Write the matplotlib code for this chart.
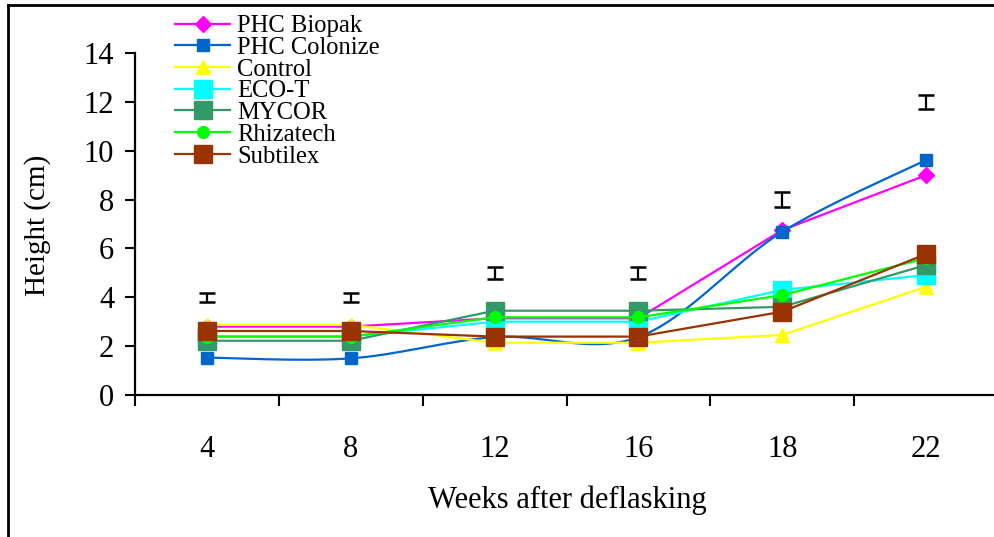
import numpy as np
import matplotlib
matplotlib.use("Agg")
import matplotlib.pyplot as plt
from matplotlib.lines import Line2D

plt.rcParams['font.family'] = ['Liberation Serif', 'DejaVu Serif']

weeks = ["4", "8", "12", "16", "18", "22"]
phc_biopak = [2.80, 2.80, 3.14, 3.14, 6.75, 9.00]
phc_colonize = [1.53, 1.50, 2.37, 2.37, 6.68, 9.62]
control = [2.87, 2.87, 2.14, 2.14, 2.46, 4.43]
eco_t = [2.40, 2.40, 3.00, 3.00, 4.30, 4.91]
mycor = [2.22, 2.22, 3.45, 3.45, 3.61, 5.32]
rhizatech = [2.39, 2.39, 3.18, 3.18, 4.09, 5.60]
subtilex = [2.62, 2.62, 2.39, 2.39, 3.41, 5.77]
lsd_center = [4.0, 4.0, 5.0, 5.0, 8.0, 12.0]
lsd_half = [0.18, 0.18, 0.25, 0.25, 0.30, 0.30]

# name, values, colour, marker, marker size, smoothed line
series = [
    ("PHC Biopak", phc_biopak, "#FF00FF", "D", 8, False),
    ("PHC Colonize", phc_colonize, "#0066CC", "s", 8, True),
    ("Control", control, "#FFFF00", "^", 10, False),
    ("ECO-T", eco_t, "#00FFFF", "s", 13, False),
    ("MYCOR", mycor, "#339966", "s", 13, False),
    ("Rhizatech", rhizatech, "#00FF00", "o", 8.5, False),
    ("Subtilex", subtilex, "#993300", "s", 13, False),
]


def smooth(xv, yv, n=30):
    pts = np.column_stack([xv, yv]).astype(float)
    m = len(pts)
    out = []
    for i in range(m - 1):
        p0 = pts[max(i - 1, 0)]
        p1 = pts[i]
        p2 = pts[i + 1]
        p3 = pts[min(i + 2, m - 1)]
        c1 = p1 + (p2 - p0) / 6.0
        c2 = p2 - (p3 - p1) / 6.0
        t = np.linspace(0, 1, n)[:, None]
        seg = ((1 - t) ** 3) * p1 + 3 * ((1 - t) ** 2) * t * c1 + 3 * (1 - t) * t ** 2 * c2 + t ** 3 * p2
        if i > 0:
            seg = seg[1:]
        out.append(seg)
    out = np.vstack(out)
    return out[:, 0], out[:, 1]


fig = plt.figure(figsize=(9.95, 5.37), dpi=100)
ax = fig.add_axes([135 / 995, (537 - 395) / 537, 863 / 995, 342 / 537])

x = np.arange(1, len(weeks) + 1)
handles = []
for z, (name, vals, col, mk, ms, sm) in enumerate(series):
    if sm:
        sx, sy = smooth(x, vals)
    else:
        sx, sy = x, vals
    ax.plot(sx, sy, color=col, lw=1.6, zorder=3 + z)
    ax.plot(x, vals, ls='none', marker=mk, ms=ms, color=col, mec=col, zorder=3 + z)
    handles.append(Line2D([], [], color=col, lw=1.6, marker=mk, ms=ms, mec=col, label=name))

ax.errorbar(x, lsd_center, yerr=lsd_half, fmt='none', ecolor='black',
            elinewidth=1.6, capsize=5.5, capthick=1.8, zorder=20)

ax.set_xlim(0.5, len(weeks) + 0.5)
ax.set_ylim(0, 14)
ax.set_yticks(np.arange(0, 15, 2))
ax.set_xticks(x)
ax.set_xticklabels(weeks)
ax.set_xticks(np.arange(0.5, len(weeks) + 1, 1), minor=True)
ax.tick_params(axis='x', which='major', length=0, pad=28.5, labelsize=22)
ax.tick_params(axis='x', which='minor', length=8, width=1.5, direction='out')
ax.tick_params(axis='y', which='major', length=7, width=1.5, direction='out', labelsize=22, pad=8)

for s in ['top', 'right']:
    ax.spines[s].set_visible(False)
for s in ['left', 'bottom']:
    ax.spines[s].set_linewidth(1.6)

fig.text(567 / 995, 1 - 500 / 537, "Weeks after deflasking", ha='center', va='center', fontsize=22)
fig.text(38 / 995, 1 - 225 / 537, "Height (cm)", ha='center', va='center', rotation=90, fontsize=21)

fig.legend(handles=handles, loc='upper left', bbox_to_anchor=(175 / 995, 1 - 15 / 537),
           frameon=False, fontsize=17.7, borderpad=0, borderaxespad=0,
           handlelength=2.25, handletextpad=0.28, labelspacing=-0.02)

# outer frame (cropped at right and bottom)
fig.add_artist(Line2D([8 / 995, 1.0], [1 - 5 / 537, 1 - 5 / 537], color='black', lw=2, transform=fig.transFigure))
fig.add_artist(Line2D([8 / 995, 8 / 995], [0, 1 - 5 / 537], color='black', lw=2, transform=fig.transFigure))

fig.savefig("out.png", dpi=100)
